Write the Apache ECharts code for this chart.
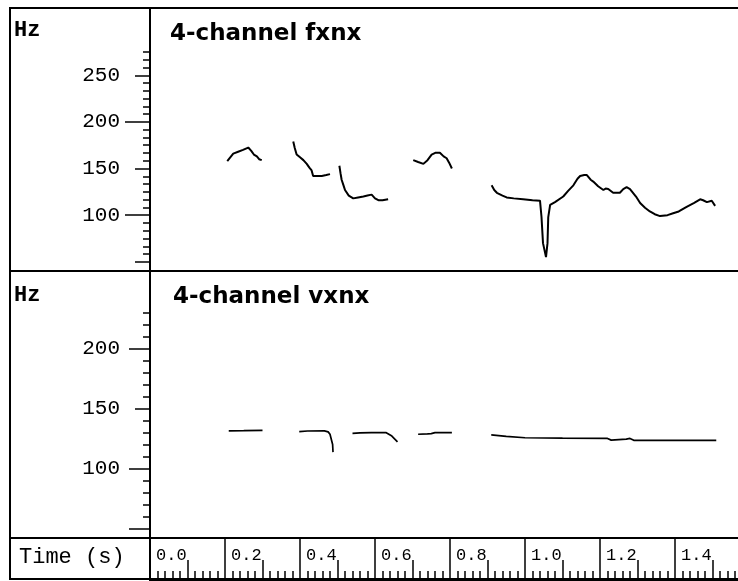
<!DOCTYPE html>
<html><head><meta charset="utf-8">
<script src="https://cdn.jsdelivr.net/npm/echarts@6/dist/echarts.min.js"></script>
<style>html,body{margin:0;padding:0;background:#fff}#c{width:738px;height:581px}</style>
</head><body><div id="c"></div>
<script>
// ---- data (time in s, F0 in Hz) ----
const titles = ['4-channel fxnx', '4-channel vxnx'];
const fxnxSeg1 = [[0.206,158],[0.214,162],[0.222,166],[0.235,168],[0.248,170],[0.262,172.5],[0.270,169],[0.277,165],[0.285,163],[0.291,160],[0.298,159]];
const fxnxSeg2 = [[0.382,179],[0.386,172],[0.391,165],[0.400,162],[0.409,159],[0.418,155],[0.425,151],[0.431,148],[0.435,142],[0.446,142],[0.458,142],[0.470,143],[0.480,144]];
const fxnxSeg3 = [[0.505,153],[0.508,145],[0.511,138],[0.516,132],[0.520,127],[0.530,121],[0.542,118],[0.555,119],[0.569,120],[0.580,121],[0.591,122],[0.600,118],[0.609,116],[0.620,116],[0.635,117]];
const fxnxSeg4 = [[0.702,159],[0.715,157],[0.729,155],[0.740,159],[0.751,165],[0.762,167],[0.773,167],[0.783,163],[0.791,161],[0.798,156],[0.805,150]];
const fxnxSeg5 = [[0.911,132],[0.918,127],[0.925,124],[0.940,121],[0.951,119],[0.970,118],[0.995,117],[1.020,116],[1.040,115.5],[1.044,98],[1.048,70],[1.056,55],[1.060,70],[1.062,98],[1.067,111],[1.080,114],[1.102,120],[1.115,126],[1.129,132],[1.140,139],[1.147,142],[1.158,143],[1.165,143],[1.175,138],[1.182,136],[1.195,131],[1.209,127],[1.215,128.5],[1.222,128],[1.235,124],[1.245,124],[1.253,124],[1.262,128],[1.271,130],[1.280,128],[1.285,127],[1.296,120],[1.307,113],[1.320,108],[1.333,104],[1.346,101],[1.360,99],[1.380,100],[1.395,102],[1.410,104],[1.431,109],[1.450,113],[1.467,117],[1.475,116],[1.485,114],[1.498,115.5],[1.507,110]];
const vxnxSeg1 = [[0.210,131.3],[0.250,131.5],[0.300,131.8]];
const vxnxSeg2 = [[0.398,130.7],[0.420,131.2],[0.465,131.3],[0.475,130.5],[0.480,128.5],[0.487,120],[0.488,113.6]];
const vxnxSeg3 = [[0.540,129.3],[0.560,129.6],[0.590,129.8],[0.630,129.8],[0.645,127],[0.660,122.2]];
const vxnxSeg4 = [[0.715,128.5],[0.740,128.8],[0.750,129],[0.755,130],[0.760,129.8],[0.805,129.8]];
const vxnxSeg5 = [[0.910,127.9],[0.950,126.8],[1.000,125.6],[1.100,125.3],[1.220,125],[1.230,123.6],[1.270,124.5],[1.280,125],[1.290,123.4],[1.400,123.4],[1.510,123.4]];
const topHzLabels = [100,150,200,250];
const bottomHzLabels = [100,150,200];
const timeLabels = [0.0,0.2,0.4,0.6,0.8,1.0,1.2,1.4];

// ---- build ----
const topMinor = []; for (let k=0;k<=27;k++) topMinor.push(50 + k*50/6);
const botMinor = []; for (let v=50; v<=230; v+=10) botMinor.push(v);
const timeMid = timeLabels.map(v=>+(v+0.1).toFixed(2));
const timeMinor = []; for (let k=0;k<=78;k++) timeMinor.push(+(k*0.02).toFixed(2));

const MONO = 'Liberation Mono';
const TMAX = 1.568;
const TOP = {min:40.13, max:322.13}, BOT = {min:41.9, max:264.77};

function yAx(grid, rng, ticks, len, labels, line) {
  return {
    type:'value', gridIndex:grid, min:rng.min, max:rng.max, position:'left',
    axisLine:{show:!!line, lineStyle:{color:'#000', width:2}},
    axisTick:{show:true, customValues:ticks, length:len, lineStyle:{color:'#000', width:1.5}},
    axisLabel: labels ? {show:true, customValues:labels, margin:30, color:'#000', fontFamily:MONO, fontSize:21} : {show:false},
    splitLine:{show:false}
  };
}
function xHidden(grid){
  return {type:'value', gridIndex:grid, min:0, max:TMAX, show:false, splitLine:{show:false}};
}
function xTime(ticks, len, labels){
  return {
    type:'value', gridIndex:2, min:0, max:TMAX, position:'bottom',
    axisLine:{show:true, lineStyle:{color:'#000', width:2}},
    axisTick:{show:true, inside:true, customValues:ticks, length:len, lineStyle:{color:'#000', width:1.5}},
    axisLabel: labels ? {show:true, inside:true, customValues:labels, margin:25, align:'left', verticalAlign:'middle',
      padding:[0,0,0,6], color:'#000', fontFamily:MONO, fontSize:17, formatter:v=>Number(v).toFixed(1)} : {show:false},
    splitLine:{show:false}
  };
}

const series = [];
[fxnxSeg1,fxnxSeg2,fxnxSeg3,fxnxSeg4,fxnxSeg5].forEach(seg=>series.push({
  type:'line', xAxisIndex:0, yAxisIndex:0, data:seg, showSymbol:false, animation:false,
  lineStyle:{color:'#000', width:2}}));
[vxnxSeg1,vxnxSeg2,vxnxSeg3,vxnxSeg4,vxnxSeg5].forEach(seg=>series.push({
  type:'line', xAxisIndex:1, yAxisIndex:3, data:seg, showSymbol:false, animation:false,
  lineStyle:{color:'#000', width:1.7}}));

const chart = echarts.init(document.getElementById('c'), null, {renderer:'canvas'});
chart.setOption({
  backgroundColor:'#fff',
  animation:false,
  title:[
    {text:titles[0], left:170, top:23, padding:0, textStyle:{fontFamily:'DejaVu Sans', fontWeight:'bold', fontSize:23, color:'#000'}},
    {text:titles[1], left:173, top:286, padding:0, textStyle:{fontFamily:'DejaVu Sans', fontWeight:'bold', fontSize:23, color:'#000'}}
  ],
  grid:[
    {left:150, right:0, top:8, height:263, outerBoundsMode:'none'},
    {left:150, right:0, top:271, height:267, outerBoundsMode:'none'},
    {left:150, right:0, top:538, height:42, outerBoundsMode:'none'}
  ],
  xAxis:[xHidden(0), xHidden(1),
    xTime(timeLabels, 42, timeLabels), xTime(timeMid, 20, null), xTime(timeMinor, 9, null)],
  yAxis:[
    yAx(0, TOP, topMinor, 7, null, true),
    yAx(0, TOP, [50,150,250], 15, topHzLabels, false),
    yAx(0, TOP, [100,200], 25, null, false),
    yAx(1, BOT, botMinor, 7, null, true),
    yAx(1, BOT, [150], 15, bottomHzLabels, false),
    yAx(1, BOT, [50,100,200], 21, null, false),
    {type:'value', gridIndex:2, min:0, max:1, show:false}
  ],
  series: series,
  graphic:[
    {type:'rect', shape:{x:10, y:8, width:740, height:571}, style:{fill:null, stroke:'#000', lineWidth:2}, silent:true},
    {type:'line', shape:{x1:10, y1:271, x2:738, y2:271}, style:{stroke:'#000', lineWidth:2}, silent:true},
    {type:'line', shape:{x1:10, y1:538, x2:738, y2:538}, style:{stroke:'#000', lineWidth:2}, silent:true},
    {type:'line', shape:{x1:150, y1:538, x2:150, y2:579}, style:{stroke:'#000', lineWidth:2}, silent:true},
    {type:'text', left:14, top:19, style:{text:'Hz', font:'bold 22px "Liberation Mono"', fill:'#000'}},
    {type:'text', left:14, top:284, style:{text:'Hz', font:'bold 22px "Liberation Mono"', fill:'#000'}},
    {type:'text', left:19, top:546, style:{text:'Time (s)', font:'22px "Liberation Mono"', fill:'#000'}}
  ]
});
</script></body></html>
